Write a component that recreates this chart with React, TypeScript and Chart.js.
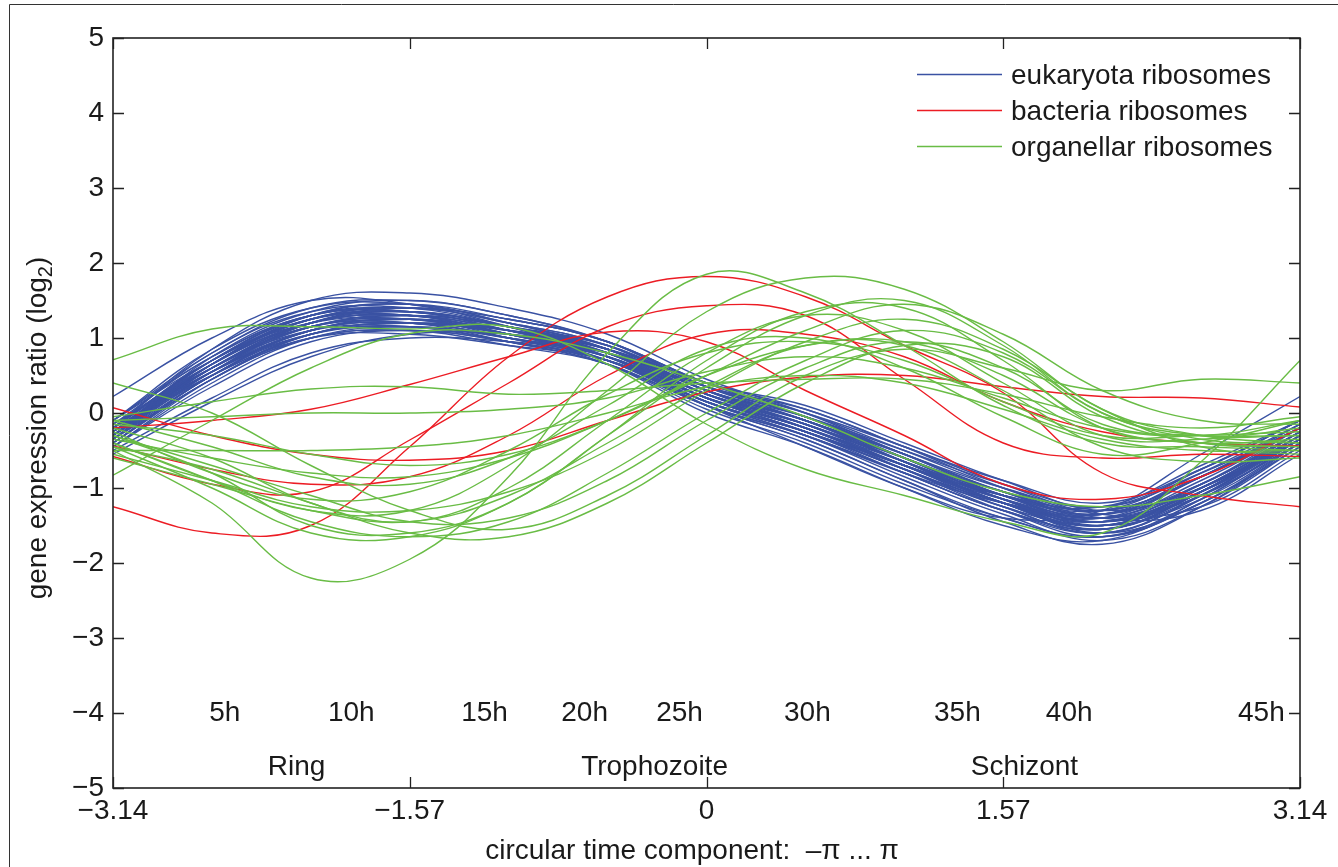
import React, { useEffect, useRef } from 'react';
import { Chart, registerables } from 'chart.js';

Chart.register(...registerables);

const FONT = "'Liberation Sans', Arial, Helvetica, sans-serif";
const TEXT = '#1a1a1a';
const BLUE = '#3a52a3';
const RED = '#ec1c24';
const GREEN = '#69bc45';

// sample positions along the circular time component (radians)
const phase = [-3.1416, -2.618, -2.0944, -1.5708, -1.0472, -0.5236, 0, 0.5236, 1.0472, 1.5708, 2.0944, 2.618, 3.1416];

const xTickValues = [-3.1416, -1.5708, 0, 1.5708, 3.1416];
const xTickLabels = ['\u22123.14', '\u22121.57', '0', '1.57', '3.14'];
const yTickValues = [-5, -4, -3, -2, -1, 0, 1, 2, 3, 4, 5];

const hourLabels = ['5h', '10h', '15h', '20h', '25h', '30h', '35h', '40h', '45h'];
const hourPhase = [-2.55, -1.88, -1.175, -0.645, -0.143, 0.534, 1.328, 1.92, 2.937];
const hourLevel = -4;
const stageLabels = ['Ring', 'Trophozoite', 'Schizont'];
const stagePhase = [-2.17, -0.275, 1.683];
const stageLevel = -4.72;

const legendLabels = ['eukaryota ribosomes', 'bacteria ribosomes', 'organellar ribosomes'];

const eukaryota = [
  [-0.25, 0.6, 1.15, 1.25, 1.05, 0.8, 0.25, -0.15, -0.65, -1.15, -1.4, -0.95, -0.25],
  [-0.1, 0.8, 1.4, 1.5, 1.3, 0.95, 0.4, -0.05, -0.55, -1.0, -1.25, -0.75, -0.1],
  [-0.4, 0.45, 1.0, 1.1, 0.9, 0.65, 0.1, -0.3, -0.8, -1.3, -1.55, -1.1, -0.4],
  [-0.3, 0.7, 1.3, 1.35, 1.1, 0.8, 0.2, -0.25, -0.75, -1.25, -1.6, -1.1, -0.3],
  [-0.2, 0.5, 1.05, 1.2, 1.1, 0.9, 0.35, -0.05, -0.55, -1.05, -1.3, -0.85, -0.2],
  [-0.35, 0.55, 1.2, 1.35, 1.15, 0.85, 0.3, -0.2, -0.7, -1.2, -1.5, -1.0, -0.35],
  [-0.15, 0.75, 1.3, 1.35, 1.1, 0.75, 0.15, -0.3, -0.8, -1.2, -1.35, -0.8, -0.15],
  [-0.45, 0.35, 0.95, 1.1, 0.95, 0.7, 0.2, -0.2, -0.7, -1.2, -1.6, -1.2, -0.45],
  [-0.25, 0.65, 1.25, 1.4, 1.2, 0.9, 0.3, -0.1, -0.6, -1.1, -1.45, -1.0, -0.25],
  [-0.3, 0.5, 1.0, 1.05, 0.9, 0.7, 0.15, -0.25, -0.75, -1.25, -1.5, -1.05, -0.3],
  [0.22, 1.0, 1.5, 1.45, 1.15, 0.75, 0.1, -0.45, -1.0, -1.4, -1.3, -0.55, 0.22],
  [-0.5, 0.2, 0.8, 1.0, 0.95, 0.8, 0.35, 0.0, -0.45, -0.95, -1.35, -1.25, -0.5],
  [-0.2, 0.65, 1.2, 1.3, 1.05, 0.75, 0.2, -0.2, -0.7, -1.2, -1.45, -0.95, -0.2],
  [-0.35, 0.6, 1.2, 1.3, 1.1, 0.8, 0.25, -0.15, -0.7, -1.2, -1.55, -1.05, -0.35],
  [-0.1, 0.7, 1.25, 1.3, 1.05, 0.7, 0.15, -0.25, -0.7, -1.1, -1.3, -0.75, -0.1],
  [-0.3, 0.55, 1.1, 1.2, 1.0, 0.75, 0.25, -0.15, -0.6, -1.1, -1.4, -1.0, -0.3],
  [-0.4, 0.5, 1.1, 1.25, 1.1, 0.85, 0.3, -0.1, -0.6, -1.15, -1.5, -1.15, -0.4],
  [-0.2, 0.8, 1.35, 1.4, 1.15, 0.8, 0.2, -0.25, -0.75, -1.2, -1.4, -0.85, -0.2],
  [-0.25, 0.55, 1.05, 1.15, 1.0, 0.75, 0.2, -0.2, -0.65, -1.1, -1.35, -0.95, -0.25],
  [-0.3, 0.65, 1.25, 1.35, 1.15, 0.85, 0.3, -0.1, -0.65, -1.2, -1.5, -1.05, -0.3],
  [-0.15, 0.6, 1.15, 1.2, 1.0, 0.7, 0.15, -0.25, -0.7, -1.15, -1.35, -0.85, -0.15],
  [-0.35, 0.45, 1.05, 1.2, 1.05, 0.8, 0.3, -0.1, -0.55, -1.05, -1.4, -1.05, -0.35],
  [-0.25, 0.7, 1.3, 1.45, 1.25, 0.95, 0.35, -0.05, -0.6, -1.15, -1.55, -1.05, -0.25],
  [-0.3, 0.6, 1.15, 1.2, 0.95, 0.65, 0.1, -0.3, -0.8, -1.3, -1.55, -1.05, -0.3],
  [-0.2, 0.7, 1.2, 1.25, 1.05, 0.8, 0.25, -0.1, -0.6, -1.05, -1.3, -0.85, -0.2],
  [-0.45, 0.4, 1.0, 1.15, 1.0, 0.75, 0.2, -0.2, -0.75, -1.3, -1.65, -1.2, -0.45],
  [-0.1, 0.85, 1.4, 1.45, 1.2, 0.85, 0.25, -0.2, -0.7, -1.1, -1.25, -0.7, -0.1],
  [-0.3, 0.55, 1.15, 1.3, 1.15, 0.9, 0.35, -0.05, -0.55, -1.1, -1.45, -1.05, -0.3],
  [-0.25, 0.6, 1.1, 1.15, 0.95, 0.7, 0.15, -0.25, -0.75, -1.2, -1.45, -0.95, -0.25],
  [-0.35, 0.65, 1.25, 1.3, 1.05, 0.75, 0.2, -0.25, -0.8, -1.3, -1.6, -1.1, -0.35],
  [-0.2, 0.55, 1.1, 1.25, 1.1, 0.85, 0.3, -0.1, -0.6, -1.1, -1.4, -0.9, -0.2],
  [-0.3, 0.75, 1.35, 1.5, 1.3, 0.95, 0.35, -0.1, -0.65, -1.2, -1.55, -1.05, -0.3],
  [-0.4, 0.45, 1.0, 1.1, 0.95, 0.7, 0.2, -0.15, -0.65, -1.15, -1.45, -1.1, -0.4],
  [-0.15, 0.65, 1.2, 1.3, 1.1, 0.8, 0.25, -0.15, -0.65, -1.1, -1.35, -0.85, -0.15],
  [-0.55, 0.15, 0.75, 1.05, 1.05, 0.85, 0.4, 0.05, -0.45, -1.0, -1.4, -1.3, -0.55],
  [-0.25, 0.65, 1.2, 1.3, 1.1, 0.8, 0.2, -0.2, -0.7, -1.2, -1.5, -1.0, -0.25],
  [-0.2, 0.85, 1.5, 1.6, 1.4, 1.05, 0.45, 0.0, -0.55, -1.05, -1.35, -0.85, -0.2],
  [-0.4, 0.5, 1.1, 1.2, 1.0, 0.7, 0.1, -0.35, -0.9, -1.45, -1.75, -1.25, -0.4],
  [-0.3, 0.55, 1.2, 1.4, 1.25, 0.95, 0.4, 0.1, -0.4, -0.9, -1.3, -1.0, -0.3],
  [-0.35, 0.6, 1.15, 1.25, 1.0, 0.65, 0.0, -0.45, -1.0, -1.5, -1.7, -1.15, -0.35],
  [-0.2, 0.7, 1.25, 1.35, 1.15, 0.85, 0.3, -0.05, -0.5, -0.95, -1.25, -0.8, -0.2],
  [-0.4, 0.5, 1.05, 1.15, 0.95, 0.65, 0.05, -0.4, -0.95, -1.4, -1.65, -1.2, -0.4],
  [-0.25, 0.65, 1.3, 1.45, 1.2, 0.85, 0.25, -0.15, -0.65, -1.15, -1.5, -1.0, -0.25],
  [-0.1, 0.75, 1.3, 1.35, 1.15, 0.85, 0.35, 0.05, -0.45, -0.9, -1.2, -0.75, -0.1],
  [-0.45, 0.45, 1.05, 1.2, 1.05, 0.75, 0.15, -0.3, -0.85, -1.35, -1.7, -1.25, -0.45],
  [-0.3, 0.6, 1.2, 1.35, 1.15, 0.8, 0.2, -0.2, -0.7, -1.25, -1.6, -1.1, -0.3],
  [-0.2, 0.7, 1.3, 1.4, 1.25, 0.95, 0.4, 0.0, -0.5, -1.0, -1.3, -0.85, -0.2],
  [-0.35, 0.5, 1.1, 1.25, 1.05, 0.7, 0.1, -0.35, -0.9, -1.4, -1.65, -1.15, -0.35],
  [-0.25, 0.6, 1.15, 1.3, 1.15, 0.85, 0.3, -0.1, -0.6, -1.15, -1.45, -1.0, -0.25],
  [-0.3, 0.65, 1.25, 1.4, 1.2, 0.9, 0.3, -0.15, -0.65, -1.2, -1.55, -1.05, -0.3],
];

const bacteria = [
  [-1.25, -1.6, -1.5, -0.45, 0.75, 1.55, 1.82, 1.55, 0.9, 0.27, -0.8, -1.1, -1.25],
  [-0.58, -0.95, -1.05, -0.36, 0.4, 1.15, 1.43, 1.3, 0.45, -0.4, -0.6, -0.55, -0.58],
  [-0.44, -0.75, -0.95, -0.85, -0.3, 0.5, 1.05, 1.05, 0.75, 0.15, -0.25, -0.4, -0.44],
  [-0.2, -0.1, 0.05, 0.38, 0.75, 1.08, 0.95, 0.3, -0.3, -0.95, -1.15, -0.85, -0.2],
  [0.07, -0.3, -0.55, -0.63, -0.5, -0.1, 0.28, 0.48, 0.5, 0.35, 0.22, 0.2, 0.08],
];

const organellar = [
  [0.71, 1.12, 1.15, 1.12, 1.15, 0.65, -0.15, -0.75, -1.1, -1.45, -1.6, -0.65, 0.7],
  [-0.83, -0.1, 0.6, 1.06, 1.05, 0.8, 0.4, -0.05, -0.6, -1.05, -1.25, -1.1, -0.85],
  [-0.5, -1.2, -2.2, -1.95, -0.85, 0.8, 1.85, 1.6, 0.9, 0.1, -0.4, -0.45, -0.5],
  [-0.4, -0.9, -1.3, -1.3, -0.7, 0.3, 1.35, 1.8, 1.65, 0.95, 0.05, -0.3, -0.4],
  [-0.3, -0.8, -1.5, -1.6, -1.2, -0.3, 0.6, 1.3, 1.5, 0.9, 0.0, -0.3, -0.3],
  [-0.45, -1.0, -1.6, -1.65, -1.2, -0.3, 0.7, 1.35, 1.4, 0.7, -0.2, -0.4, -0.45],
  [-0.2, -0.6, -1.2, -1.45, -1.0, -0.1, 0.8, 1.3, 1.1, 0.4, -0.3, -0.35, -0.2],
  [-0.55, -0.9, -1.25, -1.3, -1.05, -0.5, 0.3, 0.95, 1.25, 0.85, 0.05, -0.45, -0.55],
  [-0.1, -0.45, -0.85, -0.95, -0.6, 0.1, 0.85, 1.0, 0.6, -0.05, -0.55, -0.4, -0.1],
  [0.4, 0.0, -0.7, -1.3, -1.55, -1.1, -0.3, 0.5, 0.85, 0.6, 0.3, 0.45, 0.4],
  [-0.05, 0.15, 0.32, 0.35, 0.25, 0.3, 0.4, 0.45, 0.45, 0.25, -0.05, -0.2, -0.05],
  [-0.1, -0.05, 0.0, 0.0, 0.05, 0.2, 0.55, 0.75, 0.6, 0.2, -0.2, -0.3, -0.1],
  [-0.5, -0.5, -0.5, -0.45, -0.3, 0.0, 0.35, 0.5, 0.4, 0.05, -0.35, -0.5, -0.5],
  [-0.35, -0.6, -0.8, -0.85, -0.6, -0.1, 0.5, 0.9, 0.95, 0.5, -0.2, -0.4, -0.35],
  [-0.25, -0.8, -1.15, -1.05, -0.5, 0.25, 0.8, 0.95, 0.7, 0.15, -0.3, -0.3, -0.25],
  [-0.4, -0.9, -1.45, -1.65, -1.45, -0.8, 0.0, 0.7, 1.1, 0.8, 0.0, -0.35, -0.4],
  [-0.3, -0.7, -1.1, -1.45, -1.4, -0.9, -0.1, 0.6, 0.95, 0.6, -0.15, -0.3, -0.3],
  [-0.6, -0.95, -1.3, -1.45, -1.1, -0.4, 0.35, 0.9, 0.9, 0.3, -0.45, -0.65, -0.6],
  [-0.15, -0.3, -0.55, -0.7, -0.55, -0.1, 0.5, 1.1, 1.45, 1.05, 0.3, -0.1, -0.15],
  [-0.45, -0.75, -1.2, -1.6, -1.65, -1.2, -0.4, 0.4, 0.9, 0.75, -0.05, -0.4, -0.45],
];

const fmt = (v: number) => (v < 0 ? '\u2212' + Math.abs(v) : String(v));
const toPoints = (vals: number[]) => vals.map((v, i) => ({ x: phase[i], y: v }));

const lineSet = (vals: number[], color: string) => ({
  data: toPoints(vals),
  borderColor: color,
  borderWidth: 1.4,
  pointRadius: 0,
  tension: 0.4,
  fill: false,
});

const matlabPlugin = {
  id: 'matlabDecor',
  afterDraw(chart: any) {
    const { ctx, chartArea: a, scales } = chart;
    const x = scales.x;
    const y = scales.y;
    ctx.save();
    // outer figure frame (left + top edges visible)
    ctx.strokeStyle = '#333';
    ctx.lineWidth = 1;
    ctx.beginPath();
    ctx.moveTo(9.5, chart.height);
    ctx.lineTo(9.5, 4.5);
    ctx.lineTo(chart.width, 4.5);
    ctx.stroke();

    // axes box
    ctx.strokeStyle = '#222';
    ctx.lineWidth = 1.6;
    ctx.strokeRect(a.left, a.top, a.right - a.left, a.bottom - a.top);
    // inner ticks
    ctx.lineWidth = 1.3;
    ctx.beginPath();
    yTickValues.forEach((v) => {
      const py = Math.round(y.getPixelForValue(v)) + 0.5;
      ctx.moveTo(a.left, py);
      ctx.lineTo(a.left + 11, py);
      ctx.moveTo(a.right, py);
      ctx.lineTo(a.right - 11, py);
    });
    xTickValues.forEach((v) => {
      const px = Math.round(x.getPixelForValue(v)) + 0.5;
      ctx.moveTo(px, a.bottom);
      ctx.lineTo(px, a.bottom - 11);
      ctx.moveTo(px, a.top);
      ctx.lineTo(px, a.top + 11);
    });
    ctx.stroke();

    // hour + stage annotations
    ctx.fillStyle = TEXT;
    ctx.font = `28px ${FONT}`;
    ctx.textAlign = 'center';
    ctx.textBaseline = 'middle';
    hourLabels.forEach((t, i) => {
      ctx.fillText(t, x.getPixelForValue(hourPhase[i]), y.getPixelForValue(hourLevel));
    });
    stageLabels.forEach((t, i) => {
      ctx.fillText(t, x.getPixelForValue(stagePhase[i]), y.getPixelForValue(stageLevel));
    });

    // legend
    const colors = [BLUE, RED, GREEN];
    legendLabels.forEach((t, i) => {
      const ly = a.top + 36 + i * 36;
      ctx.strokeStyle = colors[i];
      ctx.lineWidth = 1.3;
      ctx.beginPath();
      ctx.moveTo(a.right - 383, ly + 0.5);
      ctx.lineTo(a.right - 298, ly + 0.5);
      ctx.stroke();
      ctx.textAlign = 'left';
      ctx.fillText(t, a.right - 289, ly + 2);
    });

    // x axis title
    ctx.textAlign = 'center';
    ctx.fillText('circular time component:  \u2013\u03c0 ... \u03c0', 692, 851);

    // y axis title with subscript
    ctx.translate(38, 428);
    ctx.rotate(-Math.PI / 2);
    const main = 'gene expression ratio (log';
    ctx.font = `28px ${FONT}`;
    const w1 = ctx.measureText(main).width;
    const w3 = ctx.measureText(')').width;
    ctx.font = `20px ${FONT}`;
    const w2 = ctx.measureText('2').width;
    const start = -(w1 + w2 + w3) / 2;
    ctx.textAlign = 'left';
    ctx.font = `28px ${FONT}`;
    ctx.fillText(main, start, 0);
    ctx.font = `20px ${FONT}`;
    ctx.fillText('2', start + w1, 8);
    ctx.font = `28px ${FONT}`;
    ctx.fillText(')', start + w1 + w2, 0);
    ctx.restore();
  },
};

export default function App() {
  const ref = useRef<HTMLCanvasElement | null>(null);

  useEffect(() => {
    if (!ref.current) return;
    const datasets = [
      ...organellar.map((v) => lineSet(v, GREEN)),
      ...bacteria.map((v) => lineSet(v, RED)),
      ...eukaryota.map((v) => lineSet(v, BLUE)),
    ];
    const chart = new Chart(ref.current, {
      type: 'line',
      data: { datasets },
      options: {
        responsive: false,
        animation: false,
        events: [],
        layout: { padding: { top: 38, right: 38, left: 0, bottom: 0 } },
        plugins: { legend: { display: false }, tooltip: { enabled: false }, title: { display: false } },
        scales: {
          x: {
            type: 'linear',
            min: -3.1416,
            max: 3.1416,
            grid: { display: false, drawTicks: false },
            border: { display: false },
            afterBuildTicks: (s: any) => {
              s.ticks = xTickValues.map((v) => ({ value: v }));
            },
            afterFit: (s: any) => {
              s.height = 79;
            },
            ticks: {
              autoSkip: false,
              maxRotation: 0,
              padding: 6,
              color: TEXT,
              font: { family: FONT, size: 28 },
              callback: (_v: any, i: number) => xTickLabels[i],
            },
          },
          y: {
            type: 'linear',
            min: -5,
            max: 5,
            grid: { display: false, drawTicks: false },
            border: { display: false },
            afterBuildTicks: (s: any) => {
              s.ticks = yTickValues.map((v) => ({ value: v }));
            },
            afterFit: (s: any) => {
              s.width = 113;
            },
            ticks: {
              padding: 9,
              color: TEXT,
              font: { family: FONT, size: 28 },
              callback: (v: any) => fmt(Number(v)),
            },
          },
        },
      },
      plugins: [matlabPlugin],
    } as any);
    return () => chart.destroy();
  }, []);

  return (
    <div style={{ position: 'fixed', left: 0, top: 0, width: 1338, height: 867, background: '#fff' }}>
      <canvas ref={ref} width={1338} height={867} style={{ display: 'block' }} />
    </div>
  );
}
